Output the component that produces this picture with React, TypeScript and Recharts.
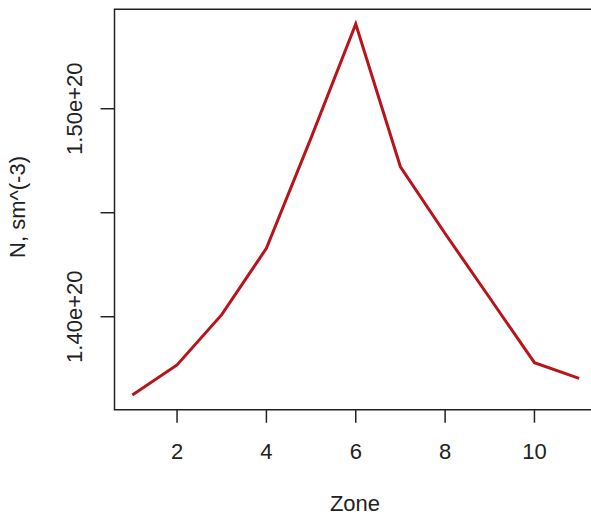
import { LineChart, Line, XAxis, YAxis, ReferenceArea, Label } from 'recharts'

// zone numbers and electron density (in units of 1e20 sm^-3)
const zones = [1, 2, 3, 4, 5, 6, 7, 8, 9, 10, 11]
const density = [1.3624, 1.3768, 1.401, 1.4329, 1.486, 1.5407, 1.4721, 1.44, 1.409, 1.3779, 1.3704]

const xTicks = [2, 4, 6, 8, 10]
const yTicks = [1.4, 1.45, 1.5]
// R dropped the middle label because it would overlap
const yTickLabels = ['1.40e+20', '', '1.50e+20']

const FONT = '"Liberation Sans", Arial, sans-serif'
const FONT_SIZE = 22
const INK = '#222'

const chartData = zones.map((z, i) => ({ zone: z, n: density[i] }))

const xDomain = [0.6, 11.4]
const yDomain = [1.3553, 1.5478]

function XTick(props: any) {
  const { x, payload } = props
  return (
    <text x={x} y={459} textAnchor="middle" fontFamily={FONT} fontSize={FONT_SIZE} fill={INK}>
      {payload.value}
    </text>
  )
}

function YTick(props: any) {
  const { y, payload } = props
  const idx = yTicks.findIndex(t => Math.abs(t - payload.value) < 1e-6)
  const label = idx >= 0 ? yTickLabels[idx] : ''
  return (
    <text
      x={82}
      y={y}
      transform={`rotate(-90, 82, ${y})`}
      textAnchor="middle"
      fontFamily={FONT}
      fontSize={FONT_SIZE}
      fill={INK}
    >
      {label}
    </text>
  )
}

export default function App() {
  return (
    <div
      style={{
        position: 'absolute',
        left: 0,
        top: 0,
        width: 591,
        height: 517,
        overflow: 'hidden',
        background: '#fff',
      }}
    >
      <LineChart
        width={617}
        height={517}
        data={chartData}
        margin={{ top: 9.3, right: 20, bottom: 0, left: 0 }}
      >
        <XAxis
          dataKey="zone"
          type="number"
          domain={xDomain}
          ticks={xTicks}
          allowDataOverflow
          height={107.3}
          axisLine={false}
          tickSize={13}
          tickLine={{ stroke: INK, strokeWidth: 1.5 }}
          tick={<XTick />}
        >
          <Label
            content={() => (
              <text x={355} y={511} textAnchor="middle" fontFamily={FONT} fontSize={FONT_SIZE} fill={INK}>
                Zone
              </text>
            )}
          />
        </XAxis>
        <YAxis
          type="number"
          domain={yDomain}
          ticks={yTicks}
          allowDataOverflow
          width={114.5}
          axisLine={false}
          tickSize={14}
          tickLine={{ stroke: INK, strokeWidth: 1.5 }}
          tick={<YTick />}
        >
          <Label
            content={() => (
              <text
                x={25}
                y={207}
                transform="rotate(-90, 25, 207)"
                textAnchor="middle"
                fontFamily={FONT}
                fontSize={FONT_SIZE}
                fill={INK}
              >
                N, sm^(-3)
              </text>
            )}
          />
        </YAxis>
        <ReferenceArea
          x1={xDomain[0]}
          x2={xDomain[1]}
          y1={yDomain[0]}
          y2={yDomain[1]}
          fill="none"
          stroke={INK}
          strokeWidth={1.5}
          ifOverflow="visible"
        />
        <Line
          type="linear"
          dataKey="n"
          stroke="#B8141C"
          strokeWidth={3}
          dot={false}
          activeDot={false}
          isAnimationActive={false}
        />
      </LineChart>
    </div>
  )
}
